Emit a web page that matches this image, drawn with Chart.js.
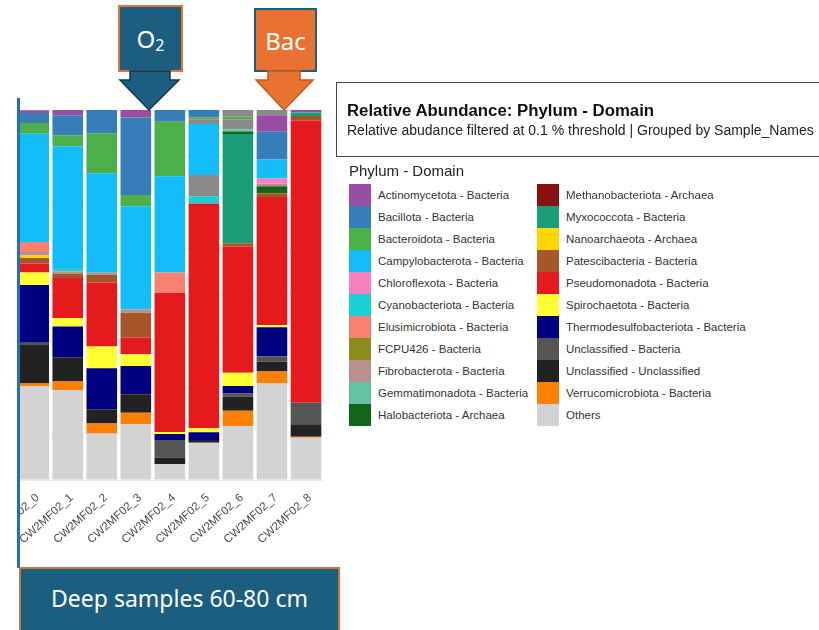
<!DOCTYPE html>
<html>
<head>
<meta charset="utf-8">
<script src="https://cdn.jsdelivr.net/npm/chart.js@4"></script>
<style>
  body { margin: 0; width: 819px; height: 630px; background: #fff; position: relative; overflow: hidden;
         font-family: "Liberation Sans", Arial, sans-serif; }
  .abs { position: absolute; }
  #clip { left: 20px; top: 0; width: 320px; height: 566px; overflow: hidden; }
  #plot { left: -60px; top: 100px; width: 380px; height: 465px; }
  #edge { left: 17px; top: 98px; width: 3px; height: 470px; background: #1F6FC5; }
  .tag { color: #fff; font-family: "Noto Sans", sans-serif; font-size: 24px; display: flex;
         align-items: center; justify-content: center; box-sizing: border-box; }
  #o2 { left: 118px; top: 5px; width: 65px; height: 67px; background: #1B5E80; border: 2px solid #E97132; }
  #bac { left: 254px; top: 8px; width: 63px; height: 64px; background: #E97132; border: 2px solid #1B5E80; }
  #titlebox { left: 336px; top: 82px; width: 520px; height: 75px; border: 1px solid #444; box-sizing: border-box; }
  #title { left: 10px; top: 18px; font-weight: bold; font-size: 16.8px; color: #111; white-space: nowrap; }
  #subtitle { left: 10px; top: 39px; font-size: 14px; color: #222; white-space: nowrap; }
  #legtitle { left: 349px; top: 162px; font-size: 15px; color: #222; }
  .row { position: absolute; height: 22px; display: flex; align-items: center; white-space: nowrap;
         font-size: 11.5px; color: #333; }
  .sw { width: 22px; height: 22px; margin-right: 7px; }
  #banner { left: 19px; top: 567px; width: 321px; height: 70px; background: #1B5E80; border: 2px solid #C8753A;
            box-sizing: border-box; color: #fff; font-family: "Noto Sans", sans-serif; font-size: 23px;
            text-align: center; padding-top: 13px; }
</style>
</head>
<body>
<div id="clip" class="abs"><div id="plot" class="abs"><canvas id="abund"></canvas></div></div>
<div id="edge" class="abs"></div>

<div id="o2" class="abs tag">O<sub style="font-size:16px;position:relative;top:6px">2</sub></div>
<svg class="abs" style="left:118px;top:70px" width="64" height="42">
  <polygon points="12,1 52,1 52,10 61,10 31,40 2,10 12,10" fill="#1B5E80" stroke="#0E3A52" stroke-width="1.5"/>
</svg>
<div id="bac" class="abs tag">Bac</div>
<svg class="abs" style="left:254px;top:70px" width="62" height="42">
  <polygon points="14,1 46,1 46,10 59,10 30,40 2,10 14,10" fill="#E97132" stroke="#C55A1A" stroke-width="1.5"/>
</svg>

<div id="titlebox" class="abs">
  <div id="title" class="abs">Relative Abundance: Phylum - Domain</div>
  <div id="subtitle" class="abs">Relative abudance filtered at 0.1 % threshold | Grouped by Sample_Names</div>
</div>
<div id="legtitle" class="abs">Phylum - Domain</div>
<div id="legend"></div>

<div id="banner" class="abs">Deep samples 60-80 cm</div>

<script>
const samples = ['CW2MF02_0', 'CW2MF02_1', 'CW2MF02_2', 'CW2MF02_3', 'CW2MF02_4',
                 'CW2MF02_5', 'CW2MF02_6', 'CW2MF02_7', 'CW2MF02_8'];

// relative abundance in %
const actinomycetota    = [0.7, 1.4, 0, 2.0, 0, 0, 0, 4.5, 0.7];
const bacillota         = [2.7, 5.4, 6.3, 21.0, 3.2, 2.0, 0, 7.5, 0];
const bacteroidota      = [2.9, 3.0, 10.8, 3.0, 14.7, 0.5, 0.7, 0, 0];
const campylobacterota  = [29.3, 32.9, 26.9, 27.9, 26.0, 13.8, 0, 5.1, 0];
const chloroflexota     = [0, 0, 0, 0, 0, 0, 0, 1.4, 0];
const cyanobacteriota   = [0, 0.9, 0, 0, 0, 2.0, 0, 0, 0];
const elusimicrobiota   = [2.7, 0, 0, 0, 5.5, 0, 0, 0, 0];
const fcpu426           = [0, 0, 0, 0, 0, 0, 0, 0, 0];
const fibrobacterota    = [0.9, 0.6, 0.5, 0.9, 0, 0, 0, 0.7, 0];
const gemmatimonadota   = [0, 0, 0, 0, 0, 0, 0.6, 0, 0];
const halobacteriota    = [0, 0, 0, 0, 0, 0, 0.7, 2.0, 0];
const methanobacteriota = [0, 0, 0, 0, 0, 0, 0, 0, 0];
const myxococcota       = [0, 0, 0, 0, 0, 0, 29.5, 0, 0.9];
const nanoarchaeota     = [0.7, 0, 0, 0, 0, 0, 0, 0, 0];
const patescibacteria   = [1.5, 1.2, 2.1, 6.7, 0, 0, 0.9, 0.9, 1.3];
const pseudomonadota    = [2.4, 10.8, 17.3, 4.5, 37.6, 60.7, 34.1, 34.6, 76.2];
const spirochaetota     = [3.4, 2.3, 5.9, 3.2, 0.6, 1.1, 3.6, 0.6, 0];
const thermodesulfo     = [15.6, 8.3, 11.1, 7.6, 1.6, 2.1, 2.0, 7.9, 0];
const unclassifiedBact  = [0.6, 0, 0, 0, 4.7, 0, 0.9, 1.4, 5.8];
const unclassifiedUncl  = [10.4, 6.6, 3.8, 5.0, 1.8, 0.7, 3.8, 2.7, 3.4];
const verrucomicrobiota = [0.7, 2.3, 2.7, 3.1, 0, 0, 4.1, 3.2, 0.3];
const others            = [25.4, 24.3, 12.6, 15.1, 4.3, 10.1, 14.6, 26.1, 11.4];
// grey blocks of phyla that are past the visible end of the legend
const unlistedUpper     = [0, 0, 0, 0, 0, 1.3, 0, 0, 0];
const unlistedMid       = [0, 0, 0, 0, 0, 5.7, 2.7, 0, 0];
const unlistedTop       = [0, 0, 0, 0, 0, 0, 1.8, 1.4, 0];

const legendNames = [
  'Actinomycetota - Bacteria', 'Bacillota - Bacteria', 'Bacteroidota - Bacteria', 'Campylobacterota - Bacteria',
  'Chloroflexota - Bacteria', 'Cyanobacteriota - Bacteria', 'Elusimicrobiota - Bacteria', 'FCPU426 - Bacteria',
  'Fibrobacterota - Bacteria', 'Gemmatimonadota - Bacteria', 'Halobacteriota - Archaea',
  'Methanobacteriota - Archaea', 'Myxococcota - Bacteria', 'Nanoarchaeota - Archaea', 'Patescibacteria - Bacteria',
  'Pseudomonadota - Bacteria', 'Spirochaetota - Bacteria', 'Thermodesulfobacteriota - Bacteria',
  'Unclassified - Bacteria', 'Unclassified - Unclassified', 'Verrucomicrobiota - Bacteria', 'Others'
];
const legendColors = [
  '#984EA3', '#377EB8', '#4DAF4A', '#12BDFA', '#F781BF', '#1CCFD6', '#FA8072', '#8B8B1E',
  '#BC8F8F', '#66C2A5', '#11661A', '#8B1010', '#1B9E77', '#FFD700', '#A65628', '#E41A1C',
  '#FFFF33', '#000080', '#555555', '#222222', '#FF7F00', '#D3D3D3'
];

// bottom of the stack first
const stack = [
  ['Others', others],
  ['Verrucomicrobiota - Bacteria', verrucomicrobiota],
  ['Unclassified - Unclassified', unclassifiedUncl],
  ['Unclassified - Bacteria', unclassifiedBact],
  ['Thermodesulfobacteriota - Bacteria', thermodesulfo],
  ['Spirochaetota - Bacteria', spirochaetota],
  ['Pseudomonadota - Bacteria', pseudomonadota],
  ['Patescibacteria - Bacteria', patescibacteria],
  ['Nanoarchaeota - Archaea', nanoarchaeota],
  ['Myxococcota - Bacteria', myxococcota],
  ['Methanobacteriota - Archaea', methanobacteriota],
  ['Halobacteriota - Archaea', halobacteriota],
  ['Gemmatimonadota - Bacteria', gemmatimonadota],
  ['Fibrobacterota - Bacteria', fibrobacterota],
  ['FCPU426 - Bacteria', fcpu426],
  ['Elusimicrobiota - Bacteria', elusimicrobiota],
  ['Cyanobacteriota - Bacteria', cyanobacteriota],
  ['Chloroflexota - Bacteria', chloroflexota],
  ['unlisted (mid)', unlistedMid],
  ['Campylobacterota - Bacteria', campylobacterota],
  ['unlisted (upper)', unlistedUpper],
  ['Bacteroidota - Bacteria', bacteroidota],
  ['Bacillota - Bacteria', bacillota],
  ['Actinomycetota - Bacteria', actinomycetota],
  ['unlisted (top)', unlistedTop]
];

function colorOf(name) {
  const i = legendNames.indexOf(name);
  return i < 0 ? '#8A8A8A' : legendColors[i];
}

// legend, two columns of 11
const leg = document.getElementById('legend');
legendNames.forEach((name, i) => {
  const col = Math.floor(i / 11), r = i % 11;
  const row = document.createElement('div');
  row.className = 'row';
  row.style.left = (col ? 537 : 349) + 'px';
  row.style.top = (184 + r * 22) + 'px';
  row.innerHTML = '<div class="sw" style="background:' + legendColors[i] + '"></div>' + name;
  leg.appendChild(row);
});

new Chart(document.getElementById('abund'), {
  type: 'bar',
  data: {
    labels: samples,
    datasets: stack.map(([name, vals]) => ({
      label: name,
      data: vals,
      backgroundColor: colorOf(name),
      borderWidth: 0,
      barPercentage: 0.9,
      categoryPercentage: 1
    }))
  },
  options: {
    responsive: true,
    maintainAspectRatio: false,
    animation: false,
    layout: { padding: { left: 56.7, right: 17, top: 10, bottom: 0 } },
    plugins: { legend: { display: false }, tooltip: { enabled: false } },
    scales: {
      x: {
        stacked: true,
        grid: { display: false },
        border: { display: false },
        ticks: {
          autoSkip: false, minRotation: 42, maxRotation: 42, padding: 3, labelOffset: 4,
          color: '#4a4a4a', font: { family: 'Liberation Sans', size: 11.5 }
        },
        afterFit: s => { s.height = 85; }
      },
      y: {
        stacked: true,
        min: 0,
        max: 100,
        ticks: { display: false, stepSize: 12.5 },
        grid: { color: '#ececec', drawTicks: false },
        border: { display: false },
        afterFit: s => { s.width = 0; }
      }
    }
  }
});
</script>
</body>
</html>
